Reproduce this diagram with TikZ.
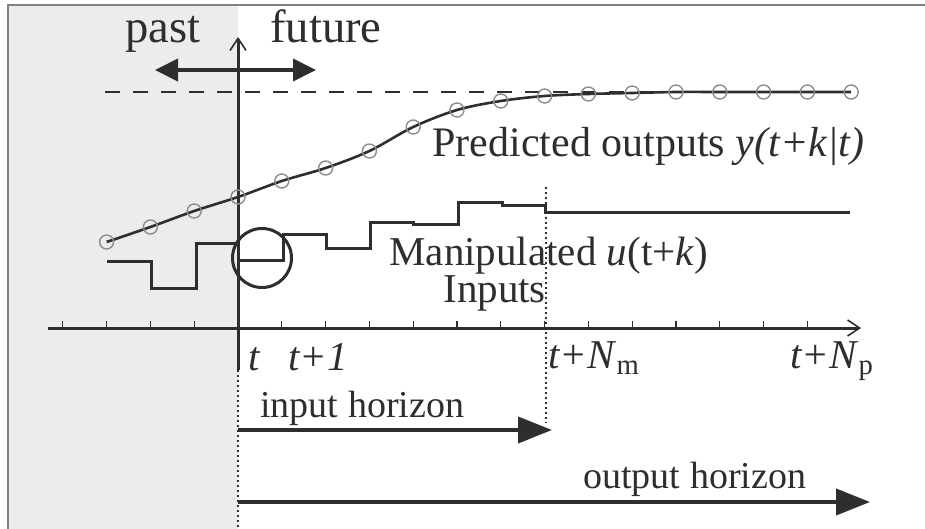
\documentclass[tikz,border=0pt]{standalone}
\usepackage{fontspec}
\setmainfont{Liberation Serif}
\usetikzlibrary{arrows.meta,positioning}
\definecolor{ink}{HTML}{2E2E2E}
\definecolor{pastshade}{HTML}{ECECEC}
\definecolor{markgray}{HTML}{8C8C8C}
\definecolor{framegray}{HTML}{808080}
\tikzset{
  axisline/.style={line width=1.5pt, draw=ink, -{Straight Barb[length=6pt,width=8pt,line width=0.8pt]}},
  tickmark/.style={line width=0.6pt, draw=ink},
  horizonarr/.style={-{Triangle[length=17pt,width=13pt]}, line width=2pt, draw=ink},
  timearr/.style={{Triangle[length=11.5pt,width=11pt]}-{Triangle[length=11.5pt,width=11pt]}, line width=2pt, draw=ink},
  predline/.style={line width=1.3pt, draw=ink},
  inputline/.style={line width=1.5pt, draw=ink},
  sample/.style={circle, draw=markgray, line width=0.7pt, inner sep=0pt, minimum size=7pt},
  setline/.style={dash pattern=on 7.5pt off 6.5pt, line width=1.1pt, draw=ink},
  boundline/.style={dash pattern=on 1pt off 1.5pt, line width=1.1pt, draw=ink},
  lbl/.style={text=ink, inner sep=0pt, anchor=base west, font=\fontsize{20.5}{24}\selectfont},
  biglbl/.style={lbl, font=\fontsize{23.3}{26}\selectfont},
  hlbl/.style={lbl, font=\fontsize{19}{22}\selectfont}
}
\begin{document}
\begin{tikzpicture}[x=0.5pt, y=-0.5pt]
    \useasboundingbox (0,0) rectangle (925,529);
    \fill[pastshade] (8,5) rectangle (238,529);
    \draw[framegray, line width=1pt] (8,529) -- (8,5) -- (925,5);
    \coordinate (origin) at (238,328);
    \coordinate (vtop) at (238,37);
    \coordinate (vmid) at (238,370);
    \coordinate (vbot) at (238,529);
    \coordinate (hleft) at (48,328);
    \coordinate (hright) at (861,328);
    \coordinate (nmtop) at (546,187);
    \coordinate (nmbot) at (546,423);
    \coordinate (pastpt) at (155,70);
    \coordinate (futpt) at (316,70);
    \coordinate (inend) at (552,430);
    \coordinate (outend) at (870,502);
    \draw[setline] (105,92) -- (850,92);
    \foreach \k in {-4,...,13}
      \draw[tickmark] (238+43.8*\k,328) -- ++(0,-7);
    \draw[axisline] (hleft) -- (hright);
    \draw[axisline] (vmid) -- (vtop);
    \draw[boundline] (vmid) -- (vbot);
    \draw[boundline] (nmtop) -- (nmbot);
    \draw[timearr] (pastpt) -- (futpt);
    \foreach \k/\yv in {-3/242,-2/227,-1/211,0/197,1/181,2/168,3/151,4/127,5/110,6/101,7/96,8/94,9/93,10/92,11/92,12/92,13/92,14/92}
      \coordinate (p\k) at (238+43.8*\k,\yv);
    \draw[predline] plot[smooth, tension=0.55] coordinates {(p-3) (p-2) (p-1) (p0) (p1) (p2) (p3) (p4) (p5) (p6) (p7) (p8) (p9) (p10) (p11) (p12) (p13) (p14)};
    \foreach \k in {-3,...,14}
      \node[sample] (s\k) at (p\k) {};
    \draw[inputline] (107,261) -- (151,261) -- (151,288) -- (196,288) -- (196,243) -- (238,243)
      -- (238,260) -- (283,260) -- (283,234) -- (326,234) -- (326,248) -- (370,248) -- (370,223)
      -- (413,223) -- (413,225) -- (458,225) -- (458,203) -- (502,203) -- (502,206) -- (545,206)
      -- (545,213) -- (850,213);
    \node[circle, draw=ink, line width=1.5pt, inner sep=0pt, minimum size=29.5pt] (now) at (262,258) {};
    \node[biglbl] (past) at (125,43) {past};
    \node[biglbl] (future) at (270,43) {future};
    \node[lbl, font=\fontsize{21}{24}\selectfont] (pred) at (432,157) {Predicted outputs \textit{y(t+k|t)}};
    \node[lbl] (manip) at (389,265) {Manipulated \textit{u}(t+\textit{k})};
    \node[lbl] (inputs) at (443,302) {Inputs};
    \node[lbl] (lt) at (248,370) {\textit{t}};
    \node[lbl] (ltone) at (288,370) {\textit{t+1}};
    \node[lbl] (ltm) at (548,368) {\textit{t+N}\textsubscript{m}};
    \node[lbl] (ltp) at (790,368) {\textit{t+N}\textsubscript{p}};
    \node[hlbl] (inhor) at (260,417) {input horizon};
    \node[hlbl] (outhor) at (583,488) {output horizon};
    \draw[horizonarr] (vbot |- inend) -- (inend);
    \draw[horizonarr] (vbot |- outend) -- (outend);
  \end{tikzpicture}
\end{document}
